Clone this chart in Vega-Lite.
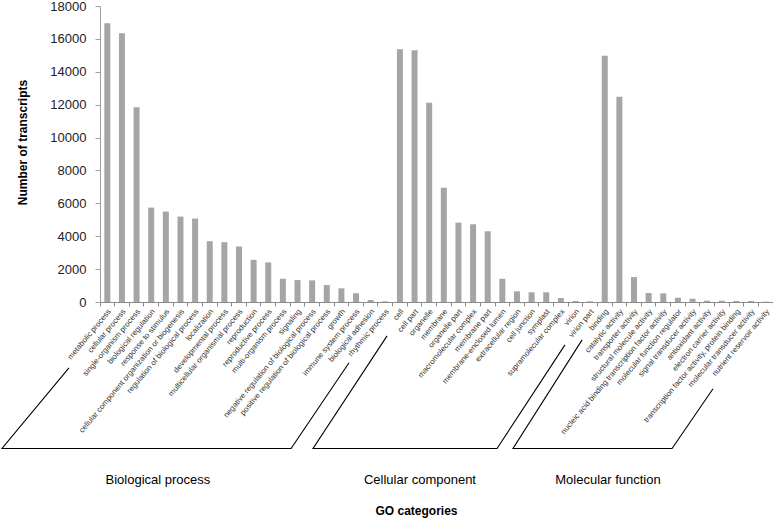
{
  "$schema": "https://vega.github.io/schema/vega-lite/v6.json",
  "width": 673,
  "height": 296,
  "autosize": "none",
  "padding": {"left": 100, "top": 6, "right": 0, "bottom": 223},
  "background": "white",
  "config": {"view": {"stroke": null}, "font": "Liberation Sans"},
  "datasets": {
    "go": [
      {"cat": "metabolic process", "value": 16950},
      {"cat": "cellular process", "value": 16345},
      {"cat": "single-organism process", "value": 11836},
      {"cat": "biological regulation", "value": 5740},
      {"cat": "response to stimulus", "value": 5497},
      {"cat": "cellular component organization or biogenesis", "value": 5194},
      {"cat": "regulation of biological process", "value": 5073},
      {"cat": "localization", "value": 3697},
      {"cat": "developmental process", "value": 3636},
      {"cat": "multicellular organismal process", "value": 3376},
      {"cat": "reproduction", "value": 2564},
      {"cat": "reproductive process", "value": 2406},
      {"cat": "multi-organism process", "value": 1412},
      {"cat": "signaling", "value": 1333},
      {"cat": "negative regulation of biological process", "value": 1315},
      {"cat": "positive regulation of biological process", "value": 1030},
      {"cat": "growth", "value": 830},
      {"cat": "immune system process", "value": 527},
      {"cat": "biological adhesion", "value": 121},
      {"cat": "rhythmic process", "value": 42},
      {"cat": "cell", "value": 15376},
      {"cat": "cell part", "value": 15313},
      {"cat": "organelle", "value": 12121},
      {"cat": "membrane", "value": 6950},
      {"cat": "organelle part", "value": 4828},
      {"cat": "macromolecular complex", "value": 4727},
      {"cat": "membrane part", "value": 4303},
      {"cat": "membrane-enclosed lumen", "value": 1412},
      {"cat": "extracellular region", "value": 648},
      {"cat": "cell junction", "value": 590},
      {"cat": "symplast", "value": 588},
      {"cat": "supramolecular complex", "value": 242},
      {"cat": "virion", "value": 60},
      {"cat": "virion part", "value": 42},
      {"cat": "binding", "value": 14970},
      {"cat": "catalytic activity", "value": 12485},
      {"cat": "transporter activity", "value": 1515},
      {"cat": "structural molecule activity", "value": 545},
      {"cat": "nucleic acid binding transcription factor activity", "value": 527},
      {"cat": "molecular function regulator", "value": 261},
      {"cat": "signal transducer activity", "value": 200},
      {"cat": "antioxidant activity", "value": 79},
      {"cat": "electron carrier activity", "value": 75},
      {"cat": "transcription factor activity, protein binding", "value": 60},
      {"cat": "molecular transducer activity", "value": 60},
      {"cat": "nutrient reservoir activity", "value": 20}
    ],
    "brackets": [
      {"g": "BP", "o": 1, "bx": -2.12, "by": -4000},
      {"g": "BP", "o": 2, "bx": -6.70, "by": -8909},
      {"g": "BP", "o": 3, "bx": 13.06, "by": -8909},
      {"g": "BP", "o": 4, "bx": 17.02, "by": -3697},
      {"g": "CC", "o": 1, "bx": 19.62, "by": -2061},
      {"g": "CC", "o": 2, "bx": 14.56, "by": -8909},
      {"g": "CC", "o": 3, "bx": 27.14, "by": -8909},
      {"g": "CC", "o": 4, "bx": 31.78, "by": -2606},
      {"g": "MF", "o": 1, "bx": 32.95, "by": -2303},
      {"g": "MF", "o": 2, "bx": 28.23, "by": -8909},
      {"g": "MF", "o": 3, "bx": 39.10, "by": -8909},
      {"g": "MF", "o": 4, "bx": 41.90, "by": -5273}
    ],
    "sections": [
      {"name": "Biological process", "tx": 3.96, "ty": -10800},
      {"name": "Cellular component", "tx": 21.87, "ty": -10800},
      {"name": "Molecular function", "tx": 34.72, "ty": -10800}
    ]
  },
  "resolve": {"scale": {"x": "independent", "y": "independent"}, "axis": {"x": "independent", "y": "independent"}},
  "layer": [
    {
      "data": {"name": "go"},
      "mark": {"type": "bar", "color": "#a5a5a5", "width": {"band": 0.41}},
      "encoding": {
        "x": {
          "field": "cat", "type": "nominal", "sort": null,
          "scale": {"paddingInner": 0, "paddingOuter": 0},
          "axis": {
            "title": "GO categories",
            "titleFont": "Liberation Sans", "titleFontSize": 12, "titleFontWeight": "bold", "titleColor": "#000",
            "titleX": 316, "titleY": 208, "titleBaseline": "middle", "titleAnchor": null,
            "bandPosition": 0, "labelOffset": 2.5,
            "labelAngle": -50, "labelFontSize": 7.8, "labelColor": "#333", "labelLimit": 400,
            "labelPadding": 4, "tickSize": 4, "tickColor": "#8c8c8c", "domainColor": "#8c8c8c",
            "labelOverlap": false
          }
        },
        "y": {
          "field": "value", "type": "quantitative",
          "scale": {"domain": [0, 18000], "nice": false},
          "axis": {
            "title": "Number of transcripts", "format": "d",
            "titleFont": "Liberation Sans", "titleFontSize": 12, "titleFontWeight": "bold", "titleColor": "#000",
            "titleX": -78, "titleY": 136, "titleBaseline": "middle", "titleAngle": -90,
            "values": [0, 2000, 4000, 6000, 8000, 10000, 12000, 14000, 16000, 18000],
            "grid": false, "labelFontSize": 13, "labelColor": "#222", "labelPadding": 9,
            "tickSize": 5, "tickColor": "#a0a0a0", "domainColor": "#a0a0a0", "labelFlush": false
          }
        }
      }
    },
    {
      "data": {"name": "brackets"},
      "mark": {"type": "line", "color": "#000", "strokeWidth": 1.1},
      "encoding": {
        "x": {"field": "bx", "type": "quantitative", "scale": {"domain": [0, 46], "nice": false, "zero": false}, "axis": null},
        "y": {"field": "by", "type": "quantitative", "scale": {"domain": [0, 18000], "nice": false}, "axis": null},
        "detail": {"field": "g"},
        "order": {"field": "o"}
      }
    },
    {
      "data": {"name": "sections"},
      "mark": {"type": "text", "font": "Liberation Sans", "fontSize": 13, "color": "#000", "align": "center", "baseline": "middle"},
      "encoding": {
        "x": {"field": "tx", "type": "quantitative", "scale": {"domain": [0, 46], "nice": false, "zero": false}, "axis": null},
        "y": {"field": "ty", "type": "quantitative", "scale": {"domain": [0, 18000], "nice": false}, "axis": null},
        "text": {"field": "name"}
      }
    }
  ]
}
